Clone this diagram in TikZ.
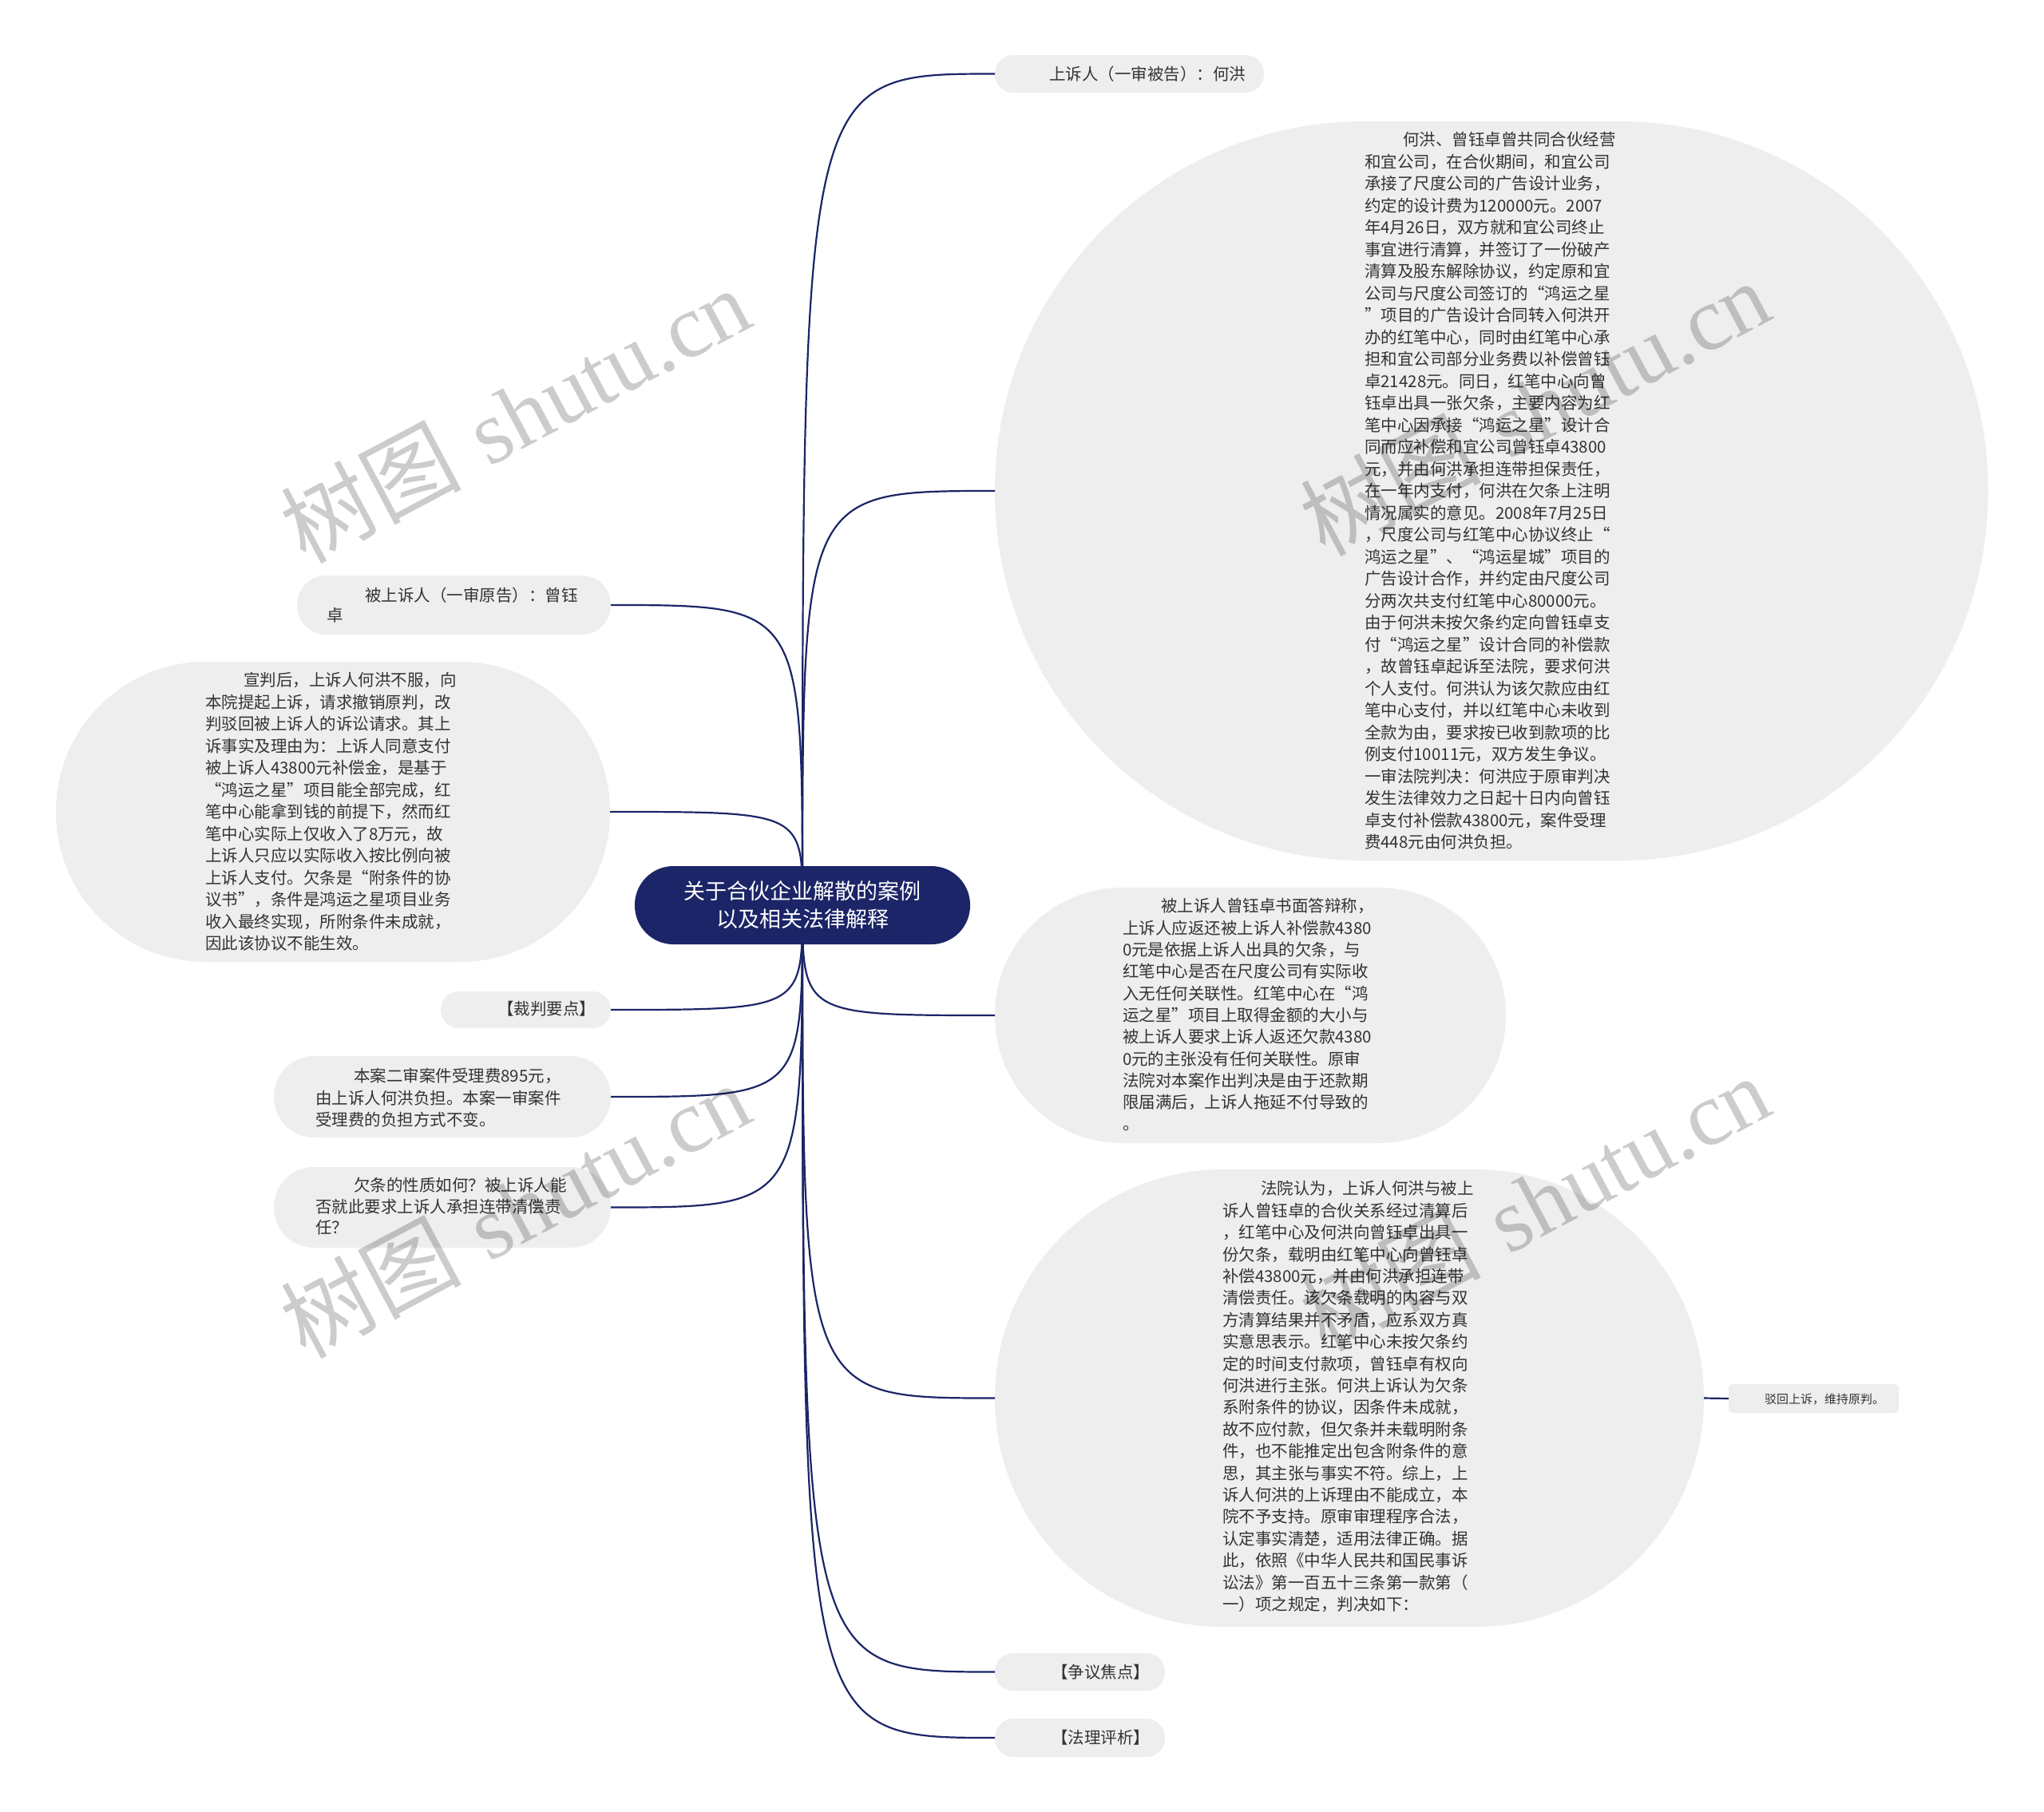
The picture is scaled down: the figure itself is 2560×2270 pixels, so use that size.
\documentclass[tikz,border=0pt]{standalone}
\usepackage{fontspec}
\newfontfamily\cjk{Noto Sans CJK SC}
\newfontfamily\wmfont{Liberation Serif}
\definecolor{navy}{RGB}{27,37,103}
\definecolor{bubblegray}{RGB}{238,238,238}
\definecolor{txtgray}{RGB}{51,51,51}
\newcommand{\fl}{\rule{0pt}{20pt}}
\newcommand{\ind}{\hspace*{48pt}}
\begin{document}
\begin{tikzpicture}[x=1pt,y=-1pt,
  conn/.style={draw=navy, line width=2.2pt},
  bubble/.style={fill=bubblegray, draw=none, inner sep=0pt, outer sep=0pt},
  body/.style={anchor=north west, inner sep=0pt, outer sep=0pt, align=left, text=txtgray},
  wm/.style={rotate=28, text=black, opacity=0.2, inner sep=0pt}
]
\fill[white] (0,0) rectangle (2560,2270);
\useasboundingbox (0,0) rectangle (2560,2270);

% bubbles
\node[bubble, minimum width=337pt, minimum height=47pt, rounded corners=23pt] (b1) at (1414.5,92.5) {};
\node[bubble, minimum width=1244pt, minimum height=926pt, rounded corners=462.5pt] (b2) at (1868,615) {};
\node[bubble, minimum width=393pt, minimum height=74pt, rounded corners=36.5pt] (b3) at (568.5,758) {};
\node[bubble, minimum width=694pt, minimum height=376pt, rounded corners=187.5pt] (b4) at (417,1017) {};
\node[bubble, minimum width=213pt, minimum height=46pt, rounded corners=22.5pt] (b5) at (658.5,1265) {};
\node[bubble, minimum width=422pt, minimum height=102pt, rounded corners=50.5pt] (b6) at (554,1374) {};
\node[bubble, minimum width=422pt, minimum height=101pt, rounded corners=50pt] (b7) at (554,1512.5) {};
\node[bubble, minimum width=640pt, minimum height=320pt, rounded corners=159.5pt] (b8) at (1566,1272) {};
\node[bubble, minimum width=888pt, minimum height=573pt, rounded corners=286pt] (b9) at (1690,1751.5) {};
\node[bubble, minimum width=213pt, minimum height=36pt, rounded corners=6pt] (b10) at (2271.5,1752) {};
\node[bubble, minimum width=213pt, minimum height=47pt, rounded corners=23pt] (b11) at (1352.5,2094.5) {};
\node[bubble, minimum width=213pt, minimum height=48pt, rounded corners=23.5pt] (b12) at (1352.5,2177) {};

% root position (invisible anchor for connectors)
\coordinate (root) at (1005,1134);

% connectors
\foreach \t in {b1,b2,b8,b9,b11,b12}
  \draw[conn] (root) .. controls (root |- \t.west) .. (\t.west);
\foreach \t in {b3,b4,b5,b6,b7}
  \draw[conn] (root) .. controls (root |- \t.east) .. (\t.east);
\draw[conn] (b9.east) -- (b10.west);

% root node on top of connectors
\node[fill=navy, text=white, rounded corners=48.5pt, minimum width=420pt, minimum height=98pt,
  inner sep=0pt, align=center, font=\cjk\fontsize{27}{35}\selectfont] (rootnode) at (root)
  {关于合伙企业解散的案例\\以及相关法律解释};

% texts
\node[body, font=\cjk\fontsize{20.5}{27.5}\selectfont] (t1) at (1266,80.9)
  {\fl\ind 上诉人（一审被告）：何洪};
\node[body, font=\cjk\fontsize{20.5}{27.5}\selectfont] (t2) at (1709,162.9)
  {\fl\ind 何洪、曾钰卓曾共同合伙经营\\
和宜公司，在合伙期间，和宜公司\\
承接了尺度公司的广告设计业务，\\
约定的设计费为120000元。2007\\
年4月26日，双方就和宜公司终止\\
事宜进行清算，并签订了一份破产\\
清算及股东解除协议，约定原和宜\\
公司与尺度公司签订的“鸿运之星\\
”项目的广告设计合同转入何洪开\\
办的红笔中心，同时由红笔中心承\\
担和宜公司部分业务费以补偿曾钰\\
卓21428元。同日，红笔中心向曾\\
钰卓出具一张欠条，主要内容为红\\
笔中心因承接“鸿运之星”设计合\\
同而应补偿和宜公司曾钰卓43800\\
元，并由何洪承担连带担保责任，\\
在一年内支付，何洪在欠条上注明\\
情况属实的意见。2008年7月25日\\
，尺度公司与红笔中心协议终止“\\
鸿运之星”、“鸿运星城”项目的\\
广告设计合作，并约定由尺度公司\\
分两次共支付红笔中心80000元。\\
由于何洪未按欠条约定向曾钰卓支\\
付“鸿运之星”设计合同的补偿款\\
，故曾钰卓起诉至法院，要求何洪\\
个人支付。何洪认为该欠款应由红\\
笔中心支付，并以红笔中心未收到\\
全款为由，要求按已收到款项的比\\
例支付10011元，双方发生争议。\\
一审法院判决：何洪应于原审判决\\
发生法律效力之日起十日内向曾钰\\
卓支付补偿款43800元，案件受理\\
费448元由何洪负担。};
\node[body, font=\cjk\fontsize{20.5}{25}\selectfont] (t3) at (409,733.9)
  {\fl\ind 被上诉人（一审原告）：曾钰\\卓};
\node[body, font=\cjk\fontsize{20.5}{27.5}\selectfont] (t4) at (257,839.9)
  {\fl\ind 宣判后，上诉人何洪不服，向\\
本院提起上诉，请求撤销原判，改\\
判驳回被上诉人的诉讼请求。其上\\
诉事实及理由为：上诉人同意支付\\
被上诉人43800元补偿金，是基于\\
“鸿运之星”项目能全部完成，红\\
笔中心能拿到钱的前提下，然而红\\
笔中心实际上仅收入了8万元，故\\
上诉人只应以实际收入按比例向被\\
上诉人支付。欠条是“附条件的协\\
议书”，条件是鸿运之星项目业务\\
收入最终实现，所附条件未成就，\\
因此该协议不能生效。};
\node[body, font=\cjk\fontsize{20.5}{27.5}\selectfont] (t5) at (575,1251.9)
  {\fl\ind 【裁判要点】};
\node[body, font=\cjk\fontsize{20.5}{27.5}\selectfont] (t6) at (395,1335.9)
  {\fl\ind 本案二审案件受理费895元，\\
由上诉人何洪负担。本案一审案件\\
受理费的负担方式不变。};
\node[body, font=\cjk\fontsize{20.5}{26.5}\selectfont] (t7) at (395,1472.9)
  {\fl\ind 欠条的性质如何？被上诉人能\\
否就此要求上诉人承担连带清偿责\\
任？};
\node[body, font=\cjk\fontsize{20.5}{27.3}\selectfont] (t8) at (1406,1122.9)
  {\fl\ind 被上诉人曾钰卓书面答辩称，\\
上诉人应返还被上诉人补偿款4380\\
0元是依据上诉人出具的欠条，与\\
红笔中心是否在尺度公司有实际收\\
入无任何关联性。红笔中心在“鸿\\
运之星”项目上取得金额的大小与\\
被上诉人要求上诉人返还欠款4380\\
0元的主张没有任何关联性。原审\\
法院对本案作出判决是由于还款期\\
限届满后，上诉人拖延不付导致的\\
。};
\node[body, font=\cjk\fontsize{20.5}{27.4}\selectfont] (t9) at (1531,1476.9)
  {\fl\ind 法院认为，上诉人何洪与被上\\
诉人曾钰卓的合伙关系经过清算后\\
，红笔中心及何洪向曾钰卓出具一\\
份欠条，载明由红笔中心向曾钰卓\\
补偿43800元，并由何洪承担连带\\
清偿责任。该欠条载明的内容与双\\
方清算结果并不矛盾，应系双方真\\
实意思表示。红笔中心未按欠条约\\
定的时间支付款项，曾钰卓有权向\\
何洪进行主张。何洪上诉认为欠条\\
系附条件的协议，因条件未成就，\\
故不应付款，但欠条并未载明附条\\
件，也不能推定出包含附条件的意\\
思，其主张与事实不符。综上，上\\
诉人何洪的上诉理由不能成立，本\\
院不予支持。原审审理程序合法，\\
认定事实清楚，适用法律正确。据\\
此，依照《中华人民共和国民事诉\\
讼法》第一百五十三条第一款第（\\
一）项之规定，判决如下：};
\node[body, font=\cjk\fontsize{15}{20}\selectfont] (t10) at (2175,1743.7)
  {\rule{0pt}{15pt}\hspace*{35pt}驳回上诉，维持原判。};
\node[body, font=\cjk\fontsize{20.5}{27.5}\selectfont] (t11) at (1269,2082.9)
  {\fl\ind 【争议焦点】};
\node[body, font=\cjk\fontsize{20.5}{27.5}\selectfont] (t12) at (1269,2164.9)
  {\fl\ind 【法理评析】};

% watermarks
\node[wm] (wm1) at (645,519) {\fontsize{113}{125}\selectfont{\cjk 树图} {\wmfont shutu.cn}};
\node[wm] (wm2) at (1922,510) {\fontsize{113}{125}\selectfont{\cjk 树图} {\wmfont shutu.cn}};
\node[wm] (wm3) at (645,1515) {\fontsize{113}{125}\selectfont{\cjk 树图} {\wmfont shutu.cn}};
\node[wm] (wm4) at (1922,1506) {\fontsize{113}{125}\selectfont{\cjk 树图} {\wmfont shutu.cn}};
\end{tikzpicture}
\end{document}
